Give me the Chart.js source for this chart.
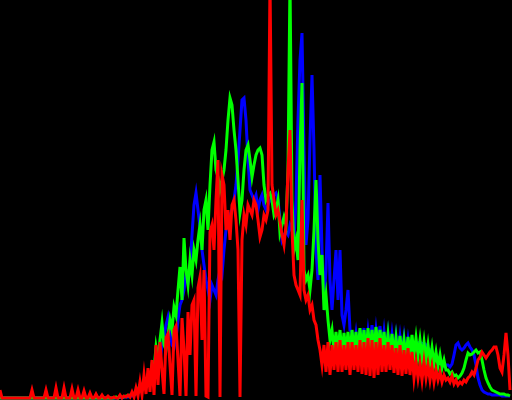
<!DOCTYPE html>
<html>
<head>
<meta charset="utf-8">
<script src="https://cdn.jsdelivr.net/npm/chart.js@4"></script>
<style>
    html, body { margin: 0; padding: 0; background: #000; }
    #wrap { width: 512px; height: 400px; position: relative; }
</style>
</head>
<body>
<div id="wrap"><canvas id="histChart"></canvas></div>
<script>
// Per-channel histogram, 256 bins, heights (0..400)
const redCounts = [
    10,2,2,2,2,2,2,2,2,2,2,2,2,2,2,2,
    10,2,2,2,2,2,2,10,2,2,2,2,12,2,2,2,
    12,2,2,2,11,2,2,10,2,2,9,2,2,7,2,2,
    6,2,2,5,2,2,4,2,2,3,2,2,5,2,4,3,
    5,3,8,3,12,4,18,5,25,6,32,8,40,5,55,15,
    58,30,6,62,66,35,5,70,74,40,4,82,50,4,88,45,
    95,100,4,112,123,60,130,4,3,168,175,150,200,240,3,225,
    215,170,190,160,195,200,180,150,3,160,185,175,195,190,185,200,
    195,180,163,170,185,180,190,420,215,200,185,190,178,165,155,175,
    230,270,170,125,115,110,105,200,110,100,105,90,95,80,75,60,
    50,35,55,28,58,25,55,30,58,28,60,28,55,30,58,25,
    58,30,55,28,60,26,58,25,62,24,60,22,58,25,62,28,
    55,28,58,30,55,27,52,25,55,24,50,26,52,25,48,22,
    38,22,36,20,38,22,35,20,33,18,30,20,28,18,25,20,
    22,18,24,16,20,15,18,16,20,18,22,24,28,25,32,40,
    43,48,45,42,45,48,50,53,53,45,32,28,45,67,45,10
];

const greenCounts = [
    2,2,2,2,2,2,2,2,2,2,2,2,2,2,2,2,
    2,2,2,2,2,2,2,2,2,2,2,2,2,2,2,2,
    2,2,2,2,2,2,2,2,2,2,2,2,2,2,2,2,
    2,2,2,2,2,2,2,2,2,2,3,2,3,3,3,4,
    4,5,6,5,8,10,15,12,20,16,25,20,35,30,53,40,
    60,77,55,50,65,80,70,93,85,110,133,100,162,130,115,140,
    125,150,140,160,175,150,190,200,170,215,250,258,230,223,210,220,
    230,250,280,302,295,270,250,220,187,200,230,250,255,240,223,235,
    245,250,252,245,215,200,205,207,200,185,190,200,167,175,183,175,
    230,420,200,150,160,140,250,317,130,120,125,110,130,170,220,160,
    125,145,90,105,80,60,70,48,68,47,70,46,67,48,68,45,
    70,48,68,46,72,48,70,45,72,47,70,48,73,50,70,48,
    68,46,65,45,66,44,62,43,64,45,60,42,63,44,65,45,
    62,44,60,42,58,40,55,38,52,36,48,34,45,32,40,30,
    30,26,28,24,25,22,24,27,32,40,47,45,46,48,50,47,
    48,40,30,22,17,13,10,9,8,7,6,6,6,5,5,4
];

const blueCounts = [
    2,2,2,2,2,2,2,2,2,2,2,2,2,2,2,2,
    2,2,2,2,2,2,2,2,2,2,2,2,2,2,2,2,
    2,2,2,2,2,2,2,2,2,2,2,2,2,2,2,2,
    2,2,2,2,2,2,2,2,2,2,2,2,3,2,3,3,
    3,4,4,5,6,7,9,10,12,14,16,18,22,25,30,35,
    40,55,62,75,83,70,55,52,62,80,95,100,110,125,118,133,
    165,195,207,190,173,150,135,120,110,100,115,110,105,120,130,125,
    150,170,180,185,190,200,215,240,270,300,302,280,240,210,205,200,
    205,190,200,205,195,190,195,200,202,205,207,200,180,160,165,168,
    165,175,170,160,200,280,340,367,250,155,180,260,325,250,150,120,
    225,150,100,130,197,120,90,120,150,100,150,85,75,90,110,70,
    68,50,66,48,70,50,72,48,68,50,75,50,70,52,74,50,
    68,48,66,46,65,47,64,46,63,45,62,44,60,45,58,50,
    55,57,58,56,57,55,52,50,46,44,42,40,38,36,34,35,
    35,33,36,45,55,57,52,50,52,55,57,53,50,45,35,22,
    15,10,8,7,6,6,5,5,5,5,5,4,4,4,4,4
];

// pair each count with its bin index for the linear x axis
function toPoints(counts) {
    return counts.map((v, i) => ({ x: i, y: v }));
}

function channel(label, counts, color, order) {
    return {
        label: label,
        data: toPoints(counts),
        borderColor: color,
        borderWidth: 3,
        pointRadius: 0,
        tension: 0,
        fill: false,
        order: order,
    };
}

const ctx = document.getElementById('histChart').getContext('2d');

new Chart(ctx, {
    type: 'line',
    data: {
        datasets: [
            channel('B', blueCounts, 'rgb(0, 0, 255)', 3),
            channel('G', greenCounts, 'rgb(0, 255, 0)', 2),
            channel('R', redCounts, 'rgb(255, 0, 0)', 1),
        ],
    },
    options: {
        responsive: true,
        maintainAspectRatio: false,
        animation: false,
        layout: { padding: 0 },
        scales: {
            x: { type: 'linear', min: 0, max: 256, display: false },
            y: { min: 0, max: 400, display: false },
        },
        plugins: {
            legend: { display: false },
            tooltip: { enabled: false },
        },
    },
});
</script>
</body>
</html>
